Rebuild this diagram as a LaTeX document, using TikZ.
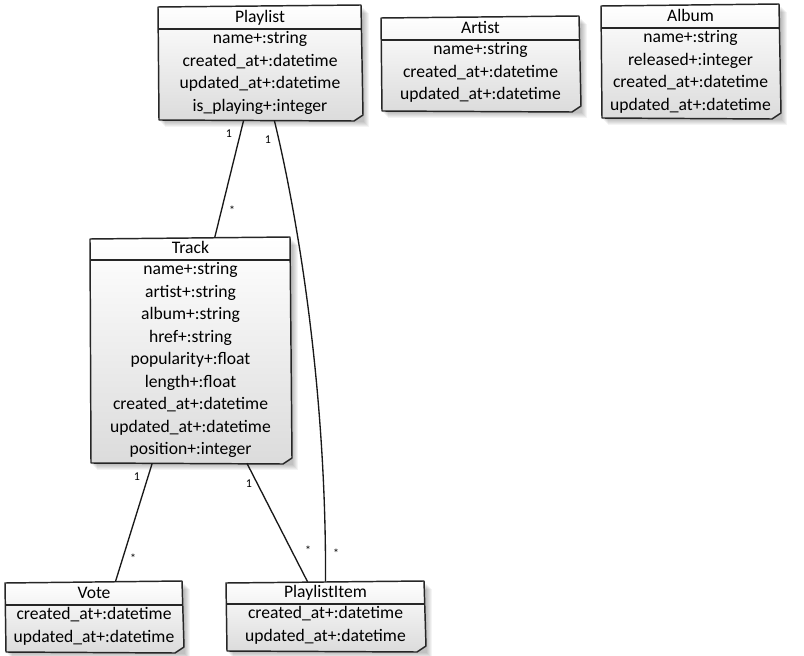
\documentclass[tikz,border=0pt]{standalone}
\usepackage{fontspec}
\setmainfont{Carlito}
\usetikzlibrary{calc,fit}
\tikzset{
  boxline/.style={draw=black!85, line width=1.1pt, line join=round},
  attr/.style={font=\fontsize{13.2}{15}\selectfont, anchor=mid, inner sep=0pt},
  link/.style={draw=black!90, line width=1pt},
  mult/.style={font=\fontsize{9}{9}\selectfont, inner sep=0pt},
}
% #1 name, #2 left, #3 top, #4 right, #5 bottom, #6 header rule, #7 title, #8 attribute rows
\newcommand\classbox[8]{%
  \foreach \s in {2,3,...,7}
    \fill[black, opacity=0.045] (#2+\s,#3+\s) rectangle (#4+\s,#5+\s);
  \shade[top color=white, bottom color=black!14]
    (#2,#3+1) -- (#4-1,#3-1) -- (#4+1,#5-5) -- (#4-8,#5+1) -- (#2+1,#5) -- cycle;
  \draw[boxline]
    (#2,#3+1) -- (#4-1,#3-1) -- (#4+1,#5-5) -- (#4-8,#5+1) -- (#2+1,#5) -- cycle;
  \draw[boxline] (#2,#6) -- (#4,#6);
  \node[attr] at ({(#2+#4)/2},{(#3+#6)/2+1.5}) {#7};
  \foreach \t [count=\i] in {#8}
    \node[attr] at ({(#2+#4)/2},{#6+11.5+22.5*(\i-1)}) {\t};
  \node[fit={(#2,#3)(#4,#5)}, inner sep=0pt] (#1) {};
}
\begin{document}
\begin{tikzpicture}[x=0.75pt,y=-0.75pt]
\useasboundingbox (0,0) rectangle (804,656);
\fill[white] (0,0) rectangle (804,656);

\classbox{playlist}{158}{6}{362}{120}{29}{Playlist}%
  {name+:string,created\_at+:datetime,updated\_at+:datetime,is\_playing+:integer}
\classbox{artist}{381}{17}{580}{111}{40}{Artist}%
  {name+:string,created\_at+:datetime,updated\_at+:datetime}
\classbox{album}{601}{5}{780}{118}{28}{Album}%
  {name+:string,released+:integer,created\_at+:datetime,updated\_at+:datetime}
\classbox{track}{90}{238}{291}{463}{260}{Track}%
  {name+:string,artist+:string,album+:string,href+:string,popularity+:float,length+:float,created\_at+:datetime,updated\_at+:datetime,position+:integer}
\classbox{vote}{5}{582}{183}{652}{605}{Vote}%
  {created\_at+:datetime,updated\_at+:datetime}
\classbox{item}{226}{582}{425}{651}{604}{PlaylistItem}%
  {created\_at+:datetime,updated\_at+:datetime}

% associations
\draw[link] ($(playlist.south west)!.42!(playlist.south east)$)
  -- ($(track.north west)!.62!(track.north east)$);
\draw[link] ($(playlist.south west)!.57!(playlist.south east)$)
  .. controls ($(playlist.south west)!.70!(playlist.south east)+(0,110)$)
  and ($(item.north west)!.50!(item.north east)+(1,-180)$)
  .. ($(item.north west)!.50!(item.north east)$);
\draw[link] ($(track.south west)!.31!(track.south east)$)
  -- ($(vote.north west)!.62!(vote.north east)$);
\draw[link] ($(track.south west)!.78!(track.south east)$)
  -- ($(item.north west)!.41!(item.north east)$);

% multiplicities
\node[mult] (m1) at (229,134) {1};
\node[mult] (m2) at (232,210) {*};
\node[mult] (m3) at (268,140) {1};
\node[mult] (m4) at (336,553) {*};
\node[mult] (m5) at (137,477) {1};
\node[mult] (m6) at (133,558) {*};
\node[mult] (m7) at (249,484) {1};
\node[mult] (m8) at (308,550) {*};
\end{tikzpicture}
\end{document}
